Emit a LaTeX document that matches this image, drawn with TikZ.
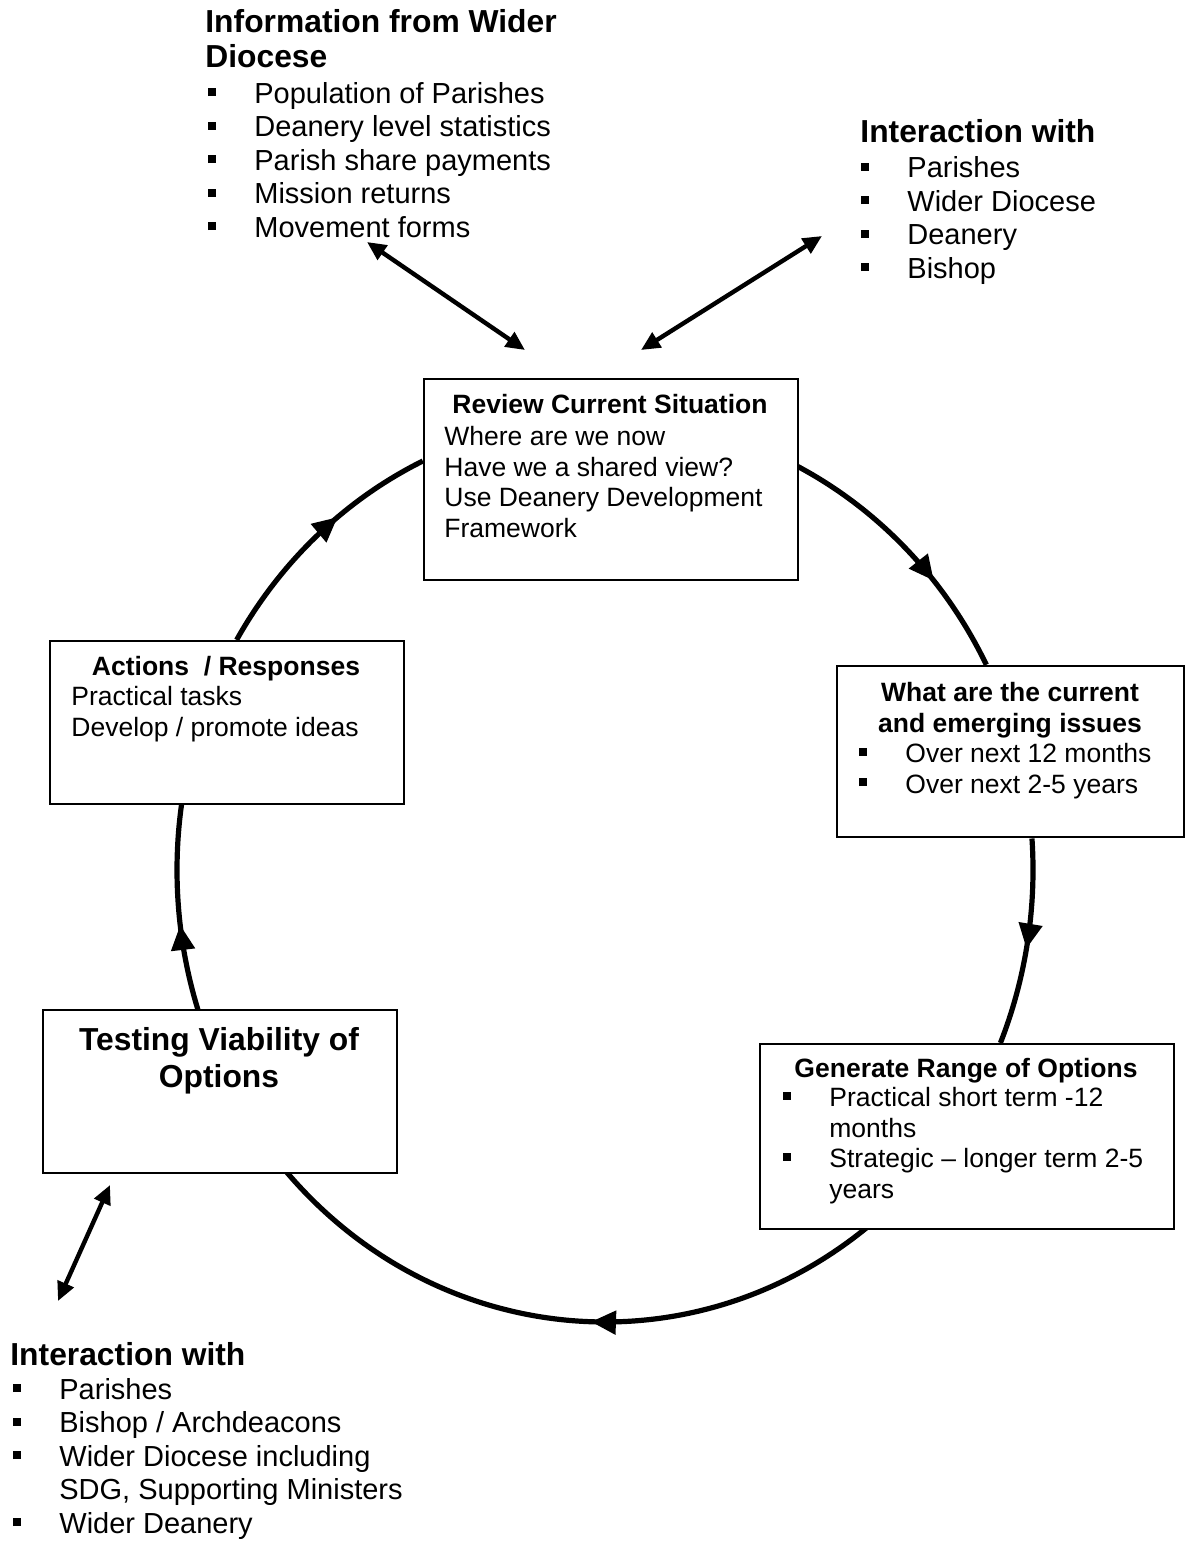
\documentclass[tikz,border=0pt]{standalone}
\usepackage{fontspec}
\setmainfont{Liberation Sans}
\usetikzlibrary{arrows.meta,decorations.markings,positioning}

\newcommand{\headfont}{\fontsize{15.9}{17.6}\selectfont\bfseries}
\newcommand{\listfont}{\fontsize{14.5}{16.75}\selectfont}
\newcommand{\boxfont}{\fontsize{13.25}{15.25}\selectfont}
\newcommand{\testfont}{\fontsize{15.9}{18.5}\selectfont\bfseries}
\newcommand{\sqbul}{\makebox[23pt][l]{\rule[3.5pt]{3.8pt}{3.8pt}}}
\newcommand{\sqgap}{\hspace*{23pt}}

\tikzset{
  stage/.style={draw, line width=1pt, fill=white, inner sep=0pt, anchor=north west},
  heading/.style={font=\headfont, align=left, inner sep=0pt, anchor=base west},
  itemlist/.style={font=\listfont, align=left, inner sep=0pt, anchor=base west},
  boxtext/.style={font=\boxfont, align=left, inner sep=0pt, anchor=base west},
  boxtitle/.style={font=\boxfont\bfseries, align=center, inner sep=0pt, anchor=base},
  ring/.style={line width=2.6pt},
  ringarrow/.style={postaction={decorate}, decoration={markings,
      mark=at position #1 with {\arrow{Triangle[length=12.5pt,width=11.5pt]}}}},
  link/.style={line width=2.2pt, {Triangle[length=9.5pt,width=8.5pt]}-{Triangle[length=9.5pt,width=8.5pt]}},
}

\begin{document}
\begin{tikzpicture}[x=0.5pt, y=0.5pt]
    \useasboundingbox (0,0) rectangle (1184,-1541);
    % the cycle (multi-line texts are placed at their last baseline)
    \coordinate (hub) at (605,-870);
    \draw[ring, ringarrow=0.65] (hub) ++(64:428 and 452) arc[start angle=64, end angle=27, x radius=428, y radius=452];
    \draw[ring, ringarrow=0.53] (hub) ++(4:428 and 452) arc[start angle=4, end angle=-22.5, x radius=428, y radius=452];
    \draw[ring, ringarrow=0.46] (hub) ++(-52.4:428 and 452) arc[start angle=-52.4, end angle=-138, x radius=428, y radius=452];
    \draw[ring, ringarrow=0.415] (hub) ++(-162:428 and 452) arc[start angle=-162, end angle=-188.5, x radius=428, y radius=452];
    \draw[ring, ringarrow=0.61] (hub) ++(149.4:428 and 452) arc[start angle=149.4, end angle=115.2, x radius=428, y radius=452];

    % boxes
    \node[stage, minimum width=187pt, minimum height=100.5pt] (review) at (423,-378) {};
    \node[boxtitle] (review title) at (610,-413) {Review Current Situation};
    \node[boxtext] (review body) at (444,-537) {Where are we now\\Have we a shared view?\\Use Deanery Development\\Framework};

    \node[stage, minimum width=173.5pt, minimum height=85.5pt] (issues) at (836,-665) {};
    \node[boxtitle] (issues title) at (1010,-732) {What are the current\\and emerging issues};
    \node[boxtext] (issues body) at (859,-793) {\sqbul Over next 12 months\\\sqbul Over next 2-5 years};

    \node[stage, minimum width=207pt, minimum height=92.5pt] (generate) at (759,-1043) {};
    \node[boxtitle] (generate title) at (966,-1077) {Generate Range of Options};
    \node[boxtext] (generate body) at (783,-1198) {\sqbul Practical short term -12\\\sqgap months\\\sqbul Strategic – longer term 2-5\\\sqgap years};

    \node[stage, minimum width=177pt, minimum height=81.5pt] (testing) at (42,-1009) {};
    \node[boxtitle, font=\testfont] (testing title) at (219,-1087) {Testing Viability of\\Options};

    \node[stage, minimum width=177pt, minimum height=81.5pt] (actions) at (49,-640) {};
    \node[boxtitle] (actions title) at (226,-675) {Actions\ \ / Responses};
    \node[boxtext] (actions body) at (71,-736) {Practical tasks\\Develop / promote ideas};

    % outside lists
    \node[heading] (info head) at (205,-68) {Information from Wider\\Diocese};
    \node[itemlist] (info list) at (208,-237) {\sqbul Population of Parishes\\\sqbul Deanery level statistics\\\sqbul Parish share payments\\\sqbul Mission returns\\\sqbul Movement forms};

    \node[heading] (top head) at (860,-142) {Interaction with};
    \node[itemlist] (top list) at (861,-278) {\sqbul Parishes\\\sqbul Wider Diocese\\\sqbul Deanery\\\sqbul Bishop};

    \node[heading] (low head) at (10,-1365) {Interaction with};
    \node[itemlist] (low list) at (13,-1533) {\sqbul Parishes\\\sqbul Bishop / Archdeacons\\\sqbul Wider Diocese including\\\sqgap SDG, Supporting Ministers\\\sqbul Wider Deanery};

    % two-way links
    \coordinate (info end) at (367,-242);
    \coordinate (review left in) at (525,-350);
    \coordinate (top end) at (822,-236);
    \coordinate (review right in) at (641,-350);
    \coordinate (low end) at (58,-1301);
    \coordinate (testing in) at (110,-1185);
    \draw[link] (info end) -- (review left in);
    \draw[link] (top end) -- (review right in);
    \draw[link] (low end) -- (testing in);
\end{tikzpicture}
\end{document}
